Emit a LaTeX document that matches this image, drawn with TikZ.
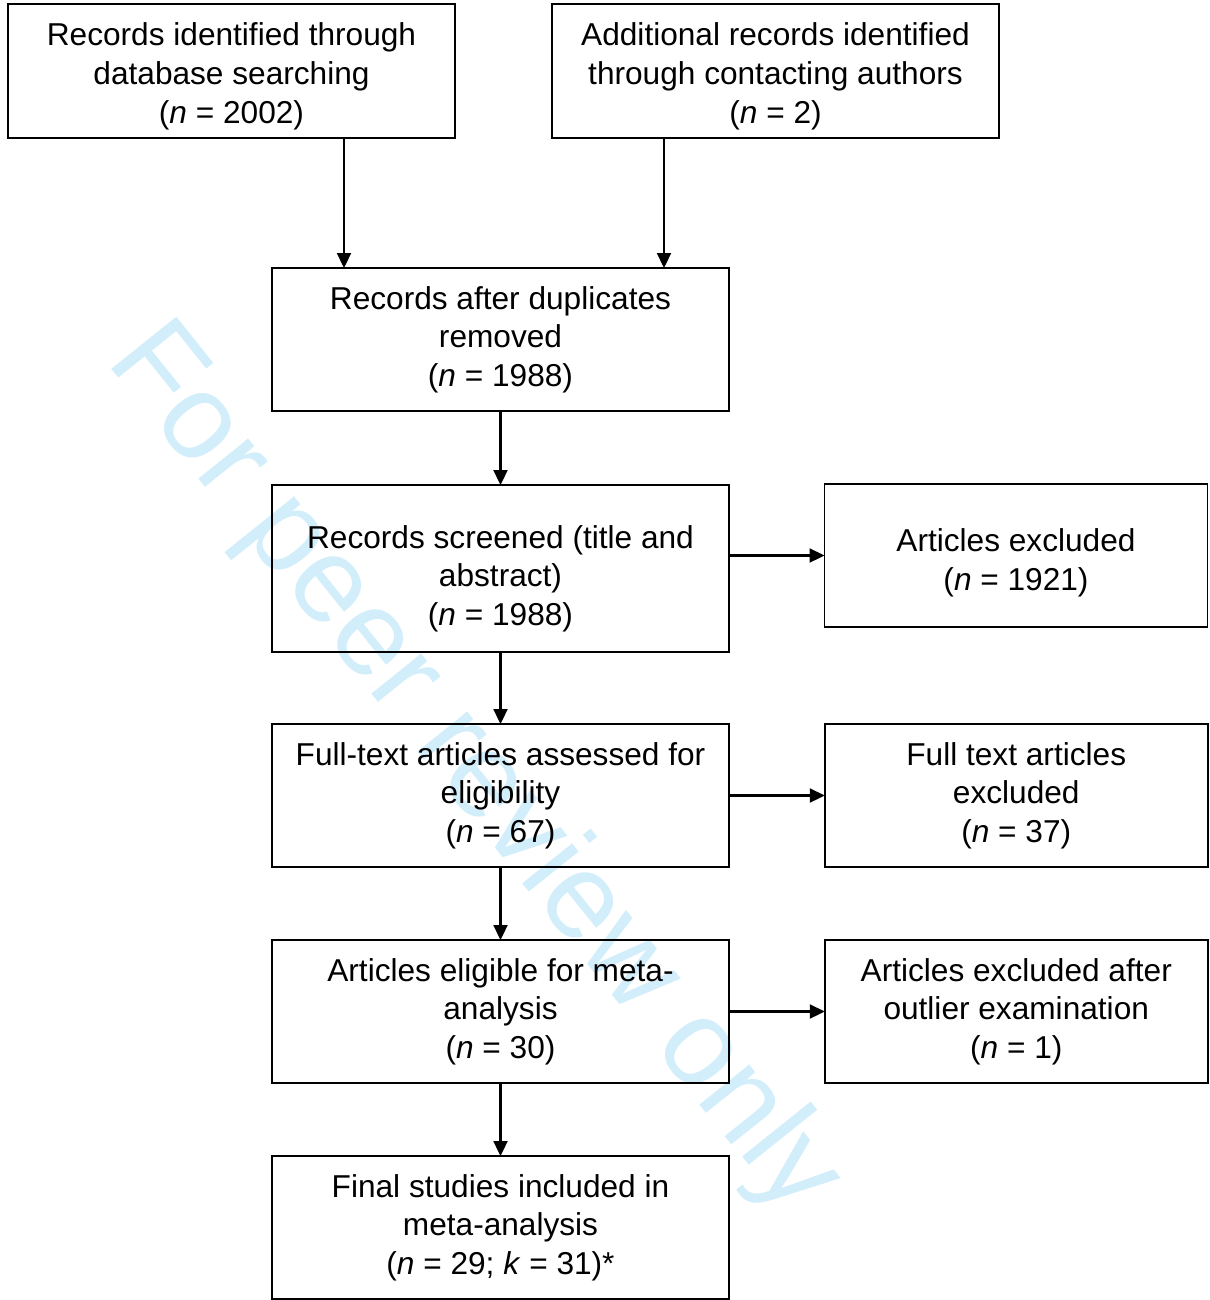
\documentclass[tikz,border=0pt]{standalone}
\usepackage{fontspec}
\setmainfont{Liberation Sans}
\usepackage{xcolor}
\usetikzlibrary{arrows.meta,positioning}
\definecolor{stampblue}{RGB}{210,238,251}
\newcommand{\topgap}[1]{\rule{0pt}{#1}}
\tikzset{
  mainbox/.style={
    draw,
    line width=0.9pt,
    outer sep=0pt,
    minimum width=9.13cm,
    minimum height=2.86cm,
    inner sep=0pt,
    align=center,
    font=\fontsize{18}{22}\selectfont
  },
  topbox/.style={
    draw,
    line width=0.9pt,
    outer sep=0pt,
    minimum width=8.94cm,
    minimum height=2.68cm,
    inner sep=0pt,
    align=center,
    font=\fontsize{18}{22}\selectfont
  },
  sidebox/.style={
    draw,
    line width=0.9pt,
    outer sep=0pt,
    minimum width=7.66cm,
    minimum height=2.86cm,
    inner sep=0pt,
    align=center,
    font=\fontsize{18}{22}\selectfont
  },
  stamp/.style={
    text=stampblue,
    font=\fontsize{69}{72}\selectfont
  },
  flow/.style={-{Triangle[length=3mm,width=2.8mm]}, line width=1.3pt}
}

\begin{document}
\begin{tikzpicture}
  \useasboundingbox (0,0) rectangle (24.18,-26);

  \node[stamp, rotate=-51.3] (wm) at (9.46,-15.42) {For peer review only};

  \node[topbox] (rec1) at (4.63,-1.42) {\topgap{19pt}Records identified through\\database searching\\(\textit{n} = 2002)};
  \node[topbox, right=1.94cm of rec1] (rec2) {\topgap{19pt}Additional records identified\\through contacting authors\\(\textit{n} = 2)};

  \node[mainbox] (dup) at (10.01,-6.79) {Records after duplicates\\removed\\(\textit{n} = 1988)};
  \node[mainbox, minimum height=3.34cm, below=1.48cm of dup] (scr) {\topgap{24.6pt}Records screened (title and\\abstract)\\(\textit{n} = 1988)};
  \node[mainbox, below=1.44cm of scr] (full) {Full-text articles assessed for\\eligibility\\(\textit{n} = 67)};
  \node[mainbox, below=1.46cm of full] (elig) {Articles eligible for meta-\\analysis\\(\textit{n} = 30)};
  \node[mainbox, below=1.46cm of elig] (final) {Final studies included in\\meta-analysis\\(\textit{n} = 29; \textit{k} = 31)*};

  \node[sidebox] (exc1) at (20.32,-11.11) {\topgap{21.2pt}Articles excluded\\(\textit{n} = 1921)};
  \node[sidebox, right=1.92cm of full] (exc2) {Full text articles\\excluded\\(\textit{n} = 37)};
  \node[sidebox, right=1.92cm of elig] (exc3) {Articles excluded after\\outlier examination\\(\textit{n} = 1)};

  \coordinate (a1) at (6.88,0);
  \coordinate (a2) at (13.28,0);

  \draw[flow] (rec1.south -| a1) -- (dup.north -| a1);
  \draw[flow] (rec2.south -| a2) -- (dup.north -| a2);
  \draw[flow] (dup) -- (scr);
  \draw[flow] (scr) -- (full);
  \draw[flow] (full) -- (elig);
  \draw[flow] (elig) -- (final);
  \draw[flow] (scr.east |- exc1.west) -- (exc1.west);
  \draw[flow] (full) -- (exc2);
  \draw[flow] (elig) -- (exc3);
\end{tikzpicture}
\end{document}
